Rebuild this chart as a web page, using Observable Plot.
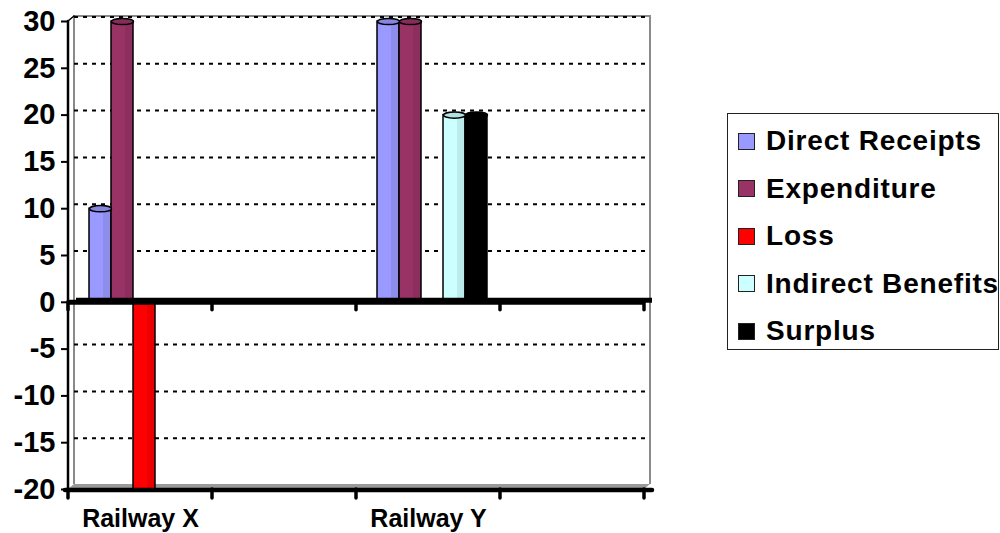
<!DOCTYPE html>
<html><head><meta charset="utf-8">
<script src="https://cdn.jsdelivr.net/npm/d3@7"></script>
<script src="https://cdn.jsdelivr.net/npm/@observablehq/plot@0.6"></script>
<style>
body{margin:0;background:#fff;font-family:"Liberation Sans",Arial,sans-serif;}
#wrap{position:relative;width:1000px;height:533px;overflow:hidden;}
#legend{position:absolute;left:727px;top:113px;width:272px;height:237px;border:1.5px solid #222;box-sizing:border-box;background:#fff;}
.item{position:absolute;left:10px;display:flex;align-items:center;height:40px;font-weight:bold;font-size:28px;letter-spacing:0.8px;color:#000;white-space:nowrap;}
.sw{width:15px;height:15px;border:1.5px solid #222;margin-right:11px;flex:none;}
</style></head><body><div id="wrap"></div>
<script>
const slots = ["Railway X", "(gap 1)", "Railway Y", "(gap 2)"];
const slotLabels = ["Railway X", "", "Railway Y", ""];
const categories = ["Railway X", "Railway Y"];
const seriesNames = ["Direct Receipts", "Expenditure", "Loss", "Indirect Benefits", "Surplus"];
const seriesColors = ["#9999FF", "#993366", "#FF0000", "#CCFFFF", "#000000"];
const directReceipts = [10, 30];
const expenditure = [30, 30];
const loss = [-20, 0];
const indirectBenefits = [0, 20];
const surplus = [0, 20];
const yTicks = [-20, -15, -10, -5, 0, 5, 10, 15, 20, 25, 30];

const seriesValues = [directReceipts, expenditure, loss, indirectBenefits, surplus];
const rows = categories.flatMap((c, i) => seriesNames.map((s, j) => ({category: c, series: s, value: seriesValues[j][i]})))
  .filter(d => d.value !== 0);

const k = 0.5523;
const ellipse = {draw(ctx, size) {
  const r = Math.sqrt(size / Math.PI), ry = r * 0.28;
  ctx.moveTo(r, 0);
  ctx.bezierCurveTo(r, ry * k, r * k, ry, 0, ry);
  ctx.bezierCurveTo(-r * k, ry, -r, ry * k, -r, 0);
  ctx.bezierCurveTo(-r, -ry * k, -r * k, -ry, 0, -ry);
  ctx.bezierCurveTo(r * k, -ry, r, -ry * k, r, 0);
  ctx.closePath();
}};

const plot = Plot.plot({
  width: 1000, height: 533,
  marginLeft: 67, marginRight: 355, marginTop: 21, marginBottom: 44,
  style: {fontFamily: "'Liberation Sans', Arial, sans-serif", fontWeight: "bold", color: "#000", background: "transparent", overflow: "visible"},
  fx: {domain: slots, padding: 0, label: null},
  x: {domain: seriesNames, paddingInner: 0, paddingOuter: 0.755, align: 0.61, axis: null},
  y: {domain: [-20, 30], label: null},
  color: {domain: seriesNames, range: seriesColors},
  marks: [
    Plot.ruleY(yTicks.filter(t => t !== 0 && t !== -20), {stroke: "#000", strokeWidth: 2, strokeDasharray: "4,5", dx: 6, dy: -4.5}),
    Plot.barY(rows, {fx: "category", x: "series", y: "value", fill: "series", stroke: "#000", strokeWidth: 1.5}),
    Plot.barY(rows, {fx: "category", x: "series", y: "value", fill: "#000", fillOpacity: 0.08, insetLeft: 14, insetRight: 1}),
    Plot.dot(rows.filter(d => d.value > 0), {fx: "category", x: "series", y: "value", r: 11, symbol: ellipse, fill: "series", stroke: "#000", strokeWidth: 1.5}),
    Plot.dot(rows.filter(d => d.value > 0), {fx: "category", x: "series", y: "value", r: 11, symbol: ellipse, fill: "#000", fillOpacity: 0.12}),
    Plot.ruleY(slots, {fx: d => d, y: () => 0, stroke: "#000", strokeWidth: 5}),
    Plot.ruleY(slots, {fx: d => d, y: () => 0, stroke: "#000", strokeWidth: 5, dx: 8, dy: -2}),
    Plot.axisY(yTicks, {tickSize: 7, tickPadding: 6, fontSize: 29, fontWeight: "bold", strokeWidth: 2, tickFormat: d => String(d), label: null}),
    Plot.axisFx({anchor: "bottom", tickSize: 0, tickPadding: 20, fontSize: 25, fontWeight: "bold", tickFormat: d => slotLabels[slots.indexOf(d)], label: null})
  ]
});

document.getElementById("wrap").appendChild(plot);

// decorations derived from the plot's own scales
const fx = plot.scale("fx"), y = plot.scale("y");
const bw = fx.bandwidth;
const bounds = slots.map(s => fx.apply(s)).concat([fx.apply(slots[slots.length - 1]) + bw]);
const x0 = bounds[0], x1 = bounds[bounds.length - 1];
const yT = y.apply(30), yZ = y.apply(0), yB = y.apply(-20);
const ddx = 6, ddy = -5;
const svg = d3.select(plot);
const back = svg.insert("g", "g");
back.append("path").attr("d", `M${x0},${yB} L${x0 + ddx},${yB + ddy} L${x1 + ddx},${yB + ddy} L${x1},${yB} Z`).attr("fill", "#9a9a9a");
back.append("path").attr("d", `M${x0 + ddx},${yB + ddy} V${yT + ddy} H${x1 + ddx} V${yB + ddy}`).attr("fill", "none").attr("stroke", "#8a8a8a").attr("stroke-width", 2);
const front = svg.append("g").attr("stroke", "#000").attr("stroke-linecap", "round");
front.append("line").attr("x1", x0).attr("x2", x0).attr("y1", yT).attr("y2", yB).attr("stroke-width", 2.5);
front.append("line").attr("x1", x0).attr("x2", x0 + ddx).attr("y1", yT).attr("y2", yT + ddy).attr("stroke-width", 1.5);
front.append("line").attr("x1", x0 - 3).attr("x2", x1 + ddx + 2).attr("y1", yB + 1).attr("y2", yB + 1).attr("stroke-width", 4.5);
for (const b of bounds) {
  front.append("line").attr("x1", b).attr("x2", b).attr("y1", yZ).attr("y2", yZ + 8).attr("stroke-width", 3.5);
  front.append("line").attr("x1", b).attr("x2", b).attr("y1", yB).attr("y2", yB + 9).attr("stroke-width", 3.5);
}

// legend
const legend = document.createElement("div");
legend.id = "legend";
seriesNames.forEach((s, i) => {
  const it = document.createElement("div");
  it.className = "item";
  it.style.top = (7 + i * 47.5) + "px";
  const sw = document.createElement("span");
  sw.className = "sw";
  sw.style.background = seriesColors[i];
  it.appendChild(sw);
  it.appendChild(document.createTextNode(s));
  legend.appendChild(it);
});
document.getElementById("wrap").appendChild(legend);
</script>
</body></html>
